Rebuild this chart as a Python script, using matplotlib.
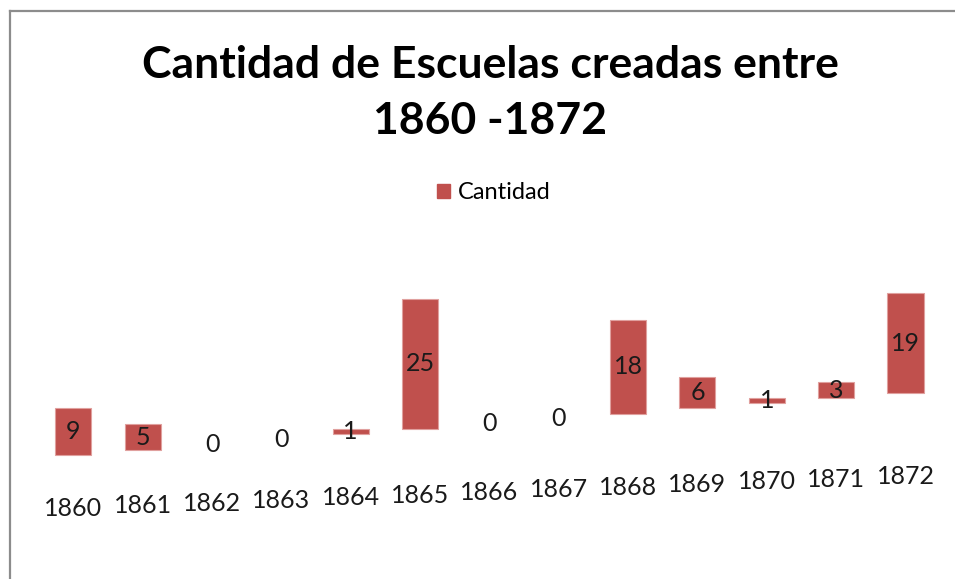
import matplotlib
matplotlib.use("Agg")
import matplotlib.pyplot as plt
from matplotlib.patches import Rectangle
from matplotlib.lines import Line2D

years = ["1860", "1861", "1862", "1863", "1864", "1865", "1866",
         "1867", "1868", "1869", "1870", "1871", "1872"]
cantidad = [9, 5, 0, 0, 1, 25, 0, 0, 18, 6, 1, 3, 19]
series_name = "Cantidad"
title = "Cantidad de Escuelas creadas entre\n1860 -1872"

BAR_COLOR = "#C0504D"
EDGE_COLOR = "#E0A09E"
FONT = "Lato"

W, H, DPI = 955, 579, 100
fig = plt.figure(figsize=(W / DPI, H / DPI), dpi=DPI)
fig.patch.set_facecolor("white")

# axes spanning the full figure; limits chosen for the tilted (perspective) look
ax = fig.add_axes([0, 0, 1, 1])
px_cat = 69.35
x0_px = 73.3
px_unit = 5.22
base_row = 455.3
ax.set_xlim(-x0_px / px_cat, (W - x0_px) / px_cat)
ax.set_ylim(-(H - base_row) / px_unit, base_row / px_unit)
ax.axis("off")

tilt_bar = 1.0      # baseline rise per category (value units)
lab_off = -10.15    # year label offset
tilt_lab = 0.504    # year label rise per category

idx = list(range(len(years)))
bottoms = [tilt_bar * i for i in idx]
bars = ax.bar(idx, cantidad, width=0.52, bottom=bottoms, color=BAR_COLOR,
              edgecolor=EDGE_COLOR, linewidth=0.8, zorder=2)
for b, v in zip(bars, cantidad):
    if v == 0:
        b.set_linewidth(0)

for i, v in zip(idx, cantidad):
    ax.text(i, bottoms[i] + v / 2, str(v), ha="center", va="center",
            fontsize=18, family=FONT, color="#1a1a1a", zorder=3)
    ax.text(i, lab_off + tilt_lab * i, years[i], ha="center", va="center",
            fontsize=18, family=FONT, color="#1a1a1a", zorder=3)

fig.text(490 / W, 1 - 93 / H, title, ha="center", va="center",
         fontsize=32, fontweight="bold", family=FONT, color="black",
         linespacing=1.5)

# legend
ax.legend(handles=[Rectangle((0, 0), 1, 1, color=BAR_COLOR)],
          labels=[series_name], loc="center",
          bbox_to_anchor=(494 / W, 1 - 193 / H), frameon=False,
          prop={"family": FONT, "size": 17}, handlelength=0.55,
          handleheight=0.55, handletextpad=0.35)

# chart border (top and left visible)
fig.add_artist(Line2D([10 / W, 10 / W], [1 - 11 / H, -0.05],
                      transform=fig.transFigure, color="#8c8c8c", lw=1.6))
fig.add_artist(Line2D([10 / W, 1.05], [1 - 11 / H, 1 - 11 / H],
                      transform=fig.transFigure, color="#8c8c8c", lw=1.6))

fig.savefig("out.png", dpi=DPI)
